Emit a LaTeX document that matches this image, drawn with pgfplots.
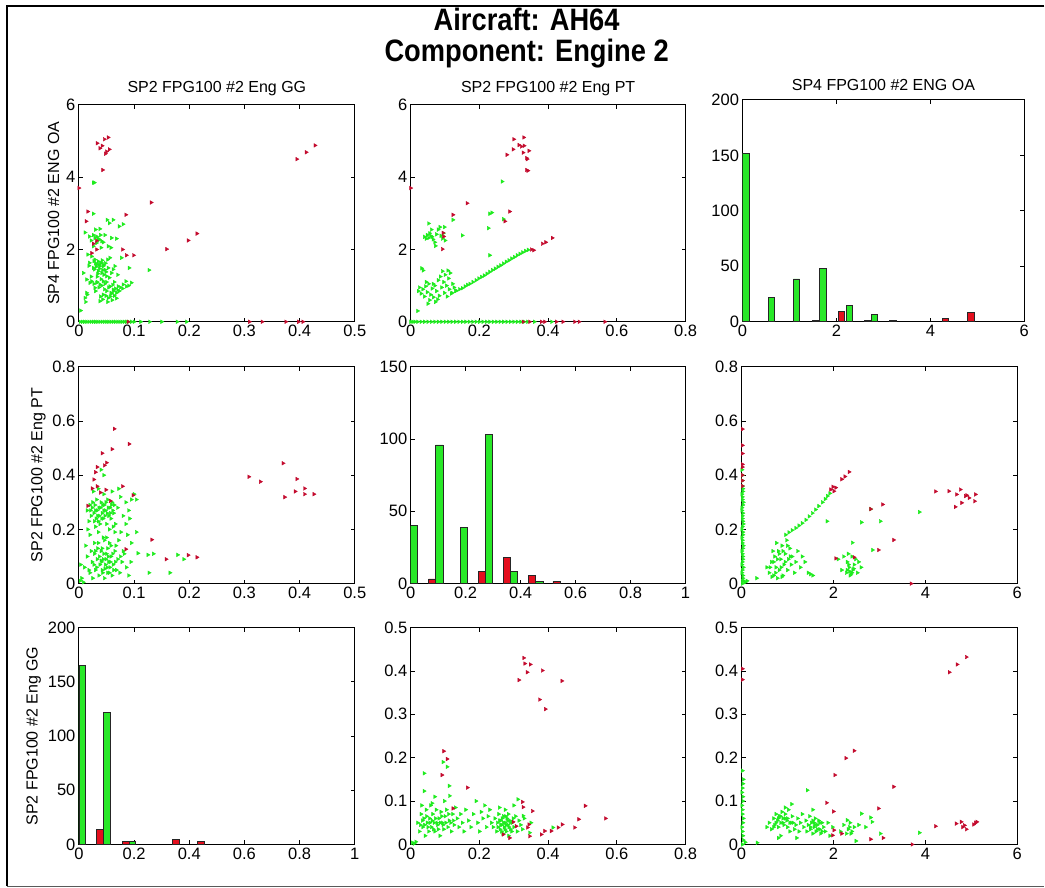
\documentclass[border=0pt]{standalone}
\usepackage{pgfplots}
\pgfplotsset{compat=1.18}
\usepackage{fontspec}
\setmainfont{Liberation Sans}
\newfontfamily\titlefont{Liberation Sans}[FakeStretch=0.88]
\definecolor{gr}{RGB}{30,235,30}
\definecolor{grb}{RGB}{40,232,40}
\definecolor{rd}{RGB}{228,15,30}
\definecolor{drd}{RGB}{195,10,45}
\pgfplotsset{
 panel/.style={scale only axis, width=276pt, height=217pt, enlargelimits=false,
   axis line style={line width=1.1pt, black}, tick align=inside, major tick length=4pt,
   tick style={line width=0.9pt, black},
   ticklabel style={font=\fontsize{16.5}{19}\selectfont, black},
   /pgf/number format/assume math mode=true, scaled ticks=false,
   title style={font=\fontsize{16}{19}\selectfont, yshift=0pt},
   ylabel style={font=\fontsize{16}{19}\selectfont},
   anchor=south west},
 gpt/.style={only marks, mark=triangle*, mark size=2.1pt, color=gr, mark options={rotate=-90}},
 rpt/.style={only marks, mark=triangle*, mark size=2.1pt, color=drd, mark options={rotate=-90}},
 gbar/.style={ybar, bar shift=0pt, fill=grb, draw=black!85, line width=0.6pt},
 rbar/.style={ybar, bar shift=0pt, fill=rd, draw=black!85, line width=0.6pt},
}
\begin{document}
\begin{tikzpicture}
\path (0pt,0pt) rectangle (1045pt,888pt);
\draw[line width=1.4pt] (1045pt,882pt) -- (7pt,882pt) -- (7pt,1pt);
\draw[line width=1.4pt, black!65] (7pt,1pt) -- (1045pt,1pt);
\node[align=center, inner sep=0pt, font=\titlefont\bfseries\fontsize{31}{31}\selectfont] at (527pt,850pt) {Aircraft: AH64\\Component: Engine 2};

% ---------- Row 1, col 1: GG vs OA
\begin{axis}[panel, at={(79pt,566pt)}, xmin=0, xmax=0.5, ymin=0, ymax=6,
  xtick={0,0.1,0.2,0.3,0.4,0.5}, ytick={0,2,4,6},
  title={SP2 FPG100 \#2 Eng GG}, ylabel={SP4 FPG100 \#2 ENG OA}]
\addplot[gpt] coordinates {
(0.026,3.85)(0.028,3.85)(0.026,2.99)(0.051,2.82)(0.062,2.82)(0.055,2.73)(0.073,2.64)(0.038,2.57)
(0.011,2.47)(0.019,2.36)(0.029,2.32)(0.032,2.36)(0.037,2.27)(0.041,2.23)(0.032,2.18)(0.059,2.32)
(0.026,2.09)(0.016,1.86)(0.023,1.81)(0.029,1.72)(0.035,1.67)(0.041,1.63)(0.032,1.58)(0.038,1.54)
(0.044,1.54)(0.026,1.49)(0.047,1.44)(0.035,1.40)(0.041,1.35)(0.053,1.49)(0.065,1.54)(0.077,1.77)
(0.091,1.49)(0.059,1.35)(0.050,1.26)(0.127,1.43)(0.014,1.17)(0.023,1.12)(0.032,1.08)(0.038,1.03)
(0.044,1.12)(0.029,0.94)(0.056,0.98)(0.062,0.89)(0.071,0.98)(0.080,1.03)(0.095,1.08)(0.086,0.98)
(0.050,0.85)(0.059,0.78)(0.044,0.75)(0.053,0.66)(0.038,0.57)(0.068,0.80)(0.014,0.80)(0.011,0.66)
(0.003,0.31)(0.020,1.08)(0.008,1.35)(0.019,1.63)(0.056,1.77)(0.053,2.09)
(0.030,1.62)(0.036,1.58)(0.042,1.70)(0.028,1.45)(0.045,1.30)(0.033,1.25)(0.040,1.18)(0.050,1.10)
(0.027,1.05)(0.036,0.95)(0.046,0.90)(0.058,0.80)(0.064,0.72)(0.070,0.88)(0.075,0.95)(0.068,0.65)
(0.060,0.60)(0.052,0.55)(0.039,0.70)(0.030,0.85)(0.022,1.25)(0.018,1.55)(0.048,1.62)(0.055,1.22)
(0.062,1.45)(0.070,1.30)(0.040,2.05)(0.047,2.40)(0.030,2.55)(0.058,2.05)(0.022,2.25)(0.080,2.70)
(0.068,2.30)(0.015,0.75)(0.012,0.55)
(0.031,1.52)(0.037,1.47)(0.043,1.43)(0.049,1.38)(0.034,1.33)(0.039,1.62)(0.045,1.57)(0.027,1.68)
(0.052,1.72)(0.033,1.10)(0.041,1.00)(0.047,1.05)(0.054,0.95)(0.061,1.02)(0.066,0.92)(0.073,0.85)
(0.079,0.92)(0.057,0.70)(0.063,0.85)(0.049,0.72)(0.043,0.62)(0.035,2.30)(0.039,2.40)(0.044,2.20)
(0.026,2.40)(0.064,1.10)(0.085,1.12)(0.090,1.00)
(0.002,0)(0.006,0)(0.010,0)(0.014,0)(0.018,0)(0.022,0)(0.026,0)(0.030,0)(0.034,0)(0.038,0)
(0.042,0)(0.046,0)(0.050,0)(0.054,0)(0.058,0)(0.062,0)(0.066,0)(0.070,0)(0.074,0)(0.078,0)
(0.082,0)(0.086,0)(0.090,0)(0.095,0)(0.100,0)(0.112,0)(0.128,0)(0.150,0)(0.178,0)(0.195,0)};
\addplot[rpt] coordinates {
(0.033,4.94)(0.038,4.80)(0.042,4.87)(0.046,5.05)(0.053,5.10)(0.050,4.71)(0.055,4.77)(0.048,4.65)
(0.043,4.20)(0.000,3.70)(0.016,3.05)(0.013,2.78)(0.085,2.96)(0.131,3.30)(0.079,2.00)(0.086,1.84)
(0.099,1.84)(0.032,2.00)(0.026,2.16)(0.023,1.90)(0.159,2.01)(0.198,2.25)(0.214,2.44)(0.395,4.50)
(0.412,4.69)(0.428,4.88)(0.309,0)(0.332,0)(0.375,0)(0.398,0)(0.406,0)(0.089,0)(0.032,2.24)};
\end{axis}

% ---------- Row 1, col 2: PT vs OA
\begin{axis}[panel, at={(411pt,566pt)}, width=275pt, xmin=0, xmax=0.8, ymin=0, ymax=6,
  xtick={0,0.2,0.4,0.6,0.8}, ytick={0,2,4,6},
  title={SP2 FPG100 \#2 Eng PT}]
\addplot[gpt] coordinates {
(0.120,0.80)(0.133,0.86)(0.142,0.90)(0.150,0.93)(0.158,0.98)(0.165,1.02)(0.172,1.05)(0.181,1.10)
(0.190,1.15)(0.198,1.20)(0.206,1.24)(0.214,1.28)(0.222,1.33)(0.230,1.38)(0.238,1.43)(0.246,1.47)
(0.254,1.52)(0.262,1.56)(0.270,1.61)(0.278,1.66)(0.286,1.70)(0.294,1.75)(0.302,1.79)(0.310,1.84)
(0.318,1.88)(0.326,1.92)(0.334,1.96)(0.342,1.99)
(0.022,0.85)(0.025,0.95)(0.030,0.78)(0.035,0.90)(0.040,0.70)(0.043,0.98)(0.048,0.82)(0.052,1.05)
(0.055,0.60)(0.058,0.75)(0.062,0.92)(0.066,0.68)(0.070,1.00)(0.072,0.55)(0.075,0.85)(0.080,1.15)
(0.083,0.72)(0.086,1.25)(0.090,0.95)(0.092,1.40)(0.096,1.10)(0.098,0.80)(0.100,1.30)(0.104,1.00)
(0.106,0.70)(0.110,1.20)(0.112,0.90)(0.115,1.35)(0.118,0.78)(0.122,1.05)(0.126,0.95)(0.130,0.85)
(0.045,1.10)(0.050,0.50)(0.032,1.48)(0.036,1.42)(0.065,1.05)(0.078,0.62)(0.108,1.42)(0.020,0.30)
(0.040,2.35)(0.045,2.30)(0.048,2.40)(0.052,2.32)(0.055,2.45)(0.058,2.38)(0.062,2.35)(0.065,2.28)
(0.070,2.20)(0.075,2.42)(0.080,2.55)(0.085,2.62)(0.088,2.38)(0.092,2.30)(0.095,2.45)(0.100,2.25)
(0.052,2.72)(0.060,2.55)(0.072,2.10)(0.098,2.62)
(0.266,3.88)(0.230,2.99)(0.226,2.59)(0.150,2.39)(0.270,2.84)(0.123,2.82)(0.230,1.84)(0.236,3.02)
(0.000,0)(0.006,0)(0.012,0)(0.020,0)(0.030,0)(0.040,0)(0.050,0)(0.060,0)(0.070,0)(0.080,0)
(0.090,0)(0.100,0)(0.110,0)(0.120,0)(0.130,0)(0.140,0)(0.150,0)(0.160,0)(0.170,0)(0.180,0)
(0.190,0)(0.200,0)(0.210,0)(0.220,0)(0.230,0)(0.240,0)(0.250,0)(0.260,0)(0.270,0)(0.280,0)
(0.290,0)(0.300,0)(0.310,0)(0.320,0)(0.330,0)(0.340,0)(0.360,0)(0.410,0)};
\addplot[rpt] coordinates {
(0.300,5.05)(0.329,5.10)(0.298,4.77)(0.315,4.89)(0.322,4.85)(0.330,4.87)(0.327,4.68)(0.344,4.73)
(0.337,4.53)(0.339,4.50)(0.280,4.62)(0.337,4.20)(0.341,4.18)(0.288,3.05)(0.164,3.28)(0.123,2.96)
(0.274,2.78)(0.094,2.46)(0.092,2.01)(0.096,2.36)(0.351,2.00)(0.358,1.98)(0.383,2.16)(0.393,2.20)
(0.412,2.32)(0.000,3.70)(0.380,0)(0.390,0)(0.424,0)(0.443,0)(0.477,0)(0.490,0)(0.565,0)(0.327,0)(0.346,0)};
\end{axis}

% ---------- Row 1, col 3: histogram OA
\begin{axis}[panel, at={(743pt,566pt)}, width=282pt, height=222pt, xmin=0, xmax=6, ymin=0, ymax=200,
  xtick={0,2,4,6}, ytick={0,50,100,150,200},
  title={SP4 FPG100 \#2 ENG OA}]
\addplot[gbar, bar width=0.13] coordinates {(0.07,152)(0.61,22)(1.15,38.7)(1.71,48)(2.27,15)(2.81,7)};
\addplot[rbar, bar width=0.13] coordinates {(1.55,1)(2.10,9.6)(2.66,1.5)(3.20,1.5)(4.32,3)(4.86,8.5)};
\end{axis}

% ---------- Row 2, col 1: GG vs PT
\begin{axis}[panel, at={(79pt,304pt)}, xmin=0, xmax=0.5, ymin=0, ymax=0.8,
  xtick={0,0.1,0.2,0.3,0.4,0.5}, ytick={0,0.2,0.4,0.6,0.8},
  ylabel={SP2 FPG100 \#2 Eng PT}]
\addplot[gpt] coordinates {
(0.015,0.27)(0.020,0.29)(0.022,0.25)(0.025,0.30)(0.028,0.23)(0.030,0.27)(0.032,0.31)(0.034,0.25)
(0.036,0.28)(0.038,0.22)(0.040,0.30)(0.042,0.26)(0.044,0.24)(0.046,0.29)(0.048,0.27)(0.050,0.22)
(0.052,0.31)(0.054,0.25)(0.056,0.28)(0.058,0.24)(0.060,0.30)(0.063,0.26)(0.066,0.22)(0.070,0.28)
(0.075,0.32)(0.080,0.25)(0.085,0.30)(0.090,0.27)(0.095,0.31)(0.100,0.33)(0.026,0.34)(0.035,0.35)
(0.045,0.33)(0.060,0.34)(0.072,0.35)(0.040,0.42)(0.045,0.40)(0.030,0.21)(0.055,0.20)(0.018,0.23)
(0.020,0.18)(0.028,0.15)(0.035,0.19)(0.042,0.13)(0.050,0.17)(0.058,0.14)(0.065,0.19)(0.072,0.16)
(0.080,0.12)(0.088,0.18)(0.095,0.15)(0.104,0.19)(0.012,0.14)(0.030,0.12)(0.046,0.16)
(0.010,0.06)(0.015,0.10)(0.020,0.04)(0.024,0.08)(0.028,0.11)(0.030,0.05)(0.033,0.09)(0.036,0.03)
(0.038,0.07)(0.040,0.12)(0.042,0.05)(0.044,0.09)(0.046,0.02)(0.048,0.07)(0.050,0.11)(0.052,0.04)
(0.054,0.08)(0.056,0.06)(0.058,0.10)(0.060,0.03)(0.062,0.07)(0.065,0.12)(0.068,0.05)(0.070,0.09)
(0.074,0.04)(0.078,0.08)(0.082,0.11)(0.086,0.06)(0.090,0.03)(0.094,0.08)(0.034,0.13)(0.052,0.13)
(0.025,0.02)(0.040,0.085)(0.047,0.055)
(0.021,0.27)(0.027,0.26)(0.029,0.29)(0.033,0.27)(0.037,0.25)(0.039,0.28)(0.041,0.24)(0.043,0.29)
(0.047,0.25)(0.049,0.30)(0.051,0.26)(0.053,0.28)(0.057,0.26)(0.059,0.29)(0.061,0.27)(0.064,0.29)
(0.031,0.24)(0.035,0.23)(0.024,0.28)(0.045,0.27)
(0.032,0.06)(0.037,0.10)(0.041,0.08)(0.043,0.04)(0.045,0.11)(0.049,0.09)(0.051,0.06)(0.053,0.10)
(0.055,0.04)(0.057,0.08)(0.061,0.11)(0.063,0.05)(0.066,0.08)(0.027,0.07)(0.022,0.12)(0.018,0.05)
(0.035,0.15)(0.044,0.17)(0.055,0.15)(0.067,0.14)(0.076,0.19)(0.085,0.22)(0.092,0.24)(0.062,0.21)
(0.016,0.20)(0.075,0.10)
(0.107,0.112)(0.125,0.106)(0.135,0.11)(0.179,0.106)(0.19,0.09)(0.165,0.04)(0.127,0.04)(0.104,0.31)
(0.002,0.01)(0.005,0.02)(0.008,0.005)(0.003,0.07)};
\addplot[rpt] coordinates {
(0.064,0.571)(0.091,0.515)(0.060,0.496)(0.042,0.481)(0.050,0.446)(0.046,0.436)(0.033,0.430)(0.030,0.411)
(0.027,0.384)(0.024,0.351)(0.033,0.359)(0.049,0.346)(0.079,0.359)(0.098,0.326)(0.039,0.336)(0.016,0.287)
(0.057,0.305)(0.132,0.162)(0.158,0.090)(0.198,0.105)(0.214,0.097)(0.085,0.127)(0.308,0.394)(0.329,0.376)
(0.370,0.444)(0.395,0.386)(0.392,0.340)(0.373,0.319)(0.409,0.351)(0.409,0.330)(0.426,0.330)};
\end{axis}

% ---------- Row 2, col 2: histogram PT
\begin{axis}[panel, at={(411pt,304pt)}, width=275pt, xmin=0, xmax=1, ymin=0, ymax=150,
  xtick={0,0.2,0.4,0.6,0.8,1}, ytick={0,50,100,150}]
\addplot[gbar, bar width=0.026] coordinates {(0.012,40)(0.104,96)(0.194,39)(0.284,103)(0.376,8.6)(0.468,1.6)};
\addplot[rbar, bar width=0.026] coordinates {(0.078,3.2)(0.259,8.6)(0.349,18)(0.44,5.5)(0.53,1.4)};
\end{axis}

% ---------- Row 2, col 3: OA vs PT
\begin{axis}[panel, at={(742pt,304pt)}, xmin=0, xmax=6, ymin=0, ymax=0.8,
  xtick={0,2,4,6}, ytick={0,0.2,0.4,0.6,0.8}]
\addplot[gpt] coordinates {
(0.02,0.00)(0.03,0.02)(0.01,0.04)(0.04,0.06)(0.02,0.08)(0.03,0.10)(0.01,0.12)(0.04,0.14)(0.02,0.16)
(0.03,0.18)(0.01,0.20)(0.04,0.22)(0.02,0.24)(0.03,0.26)(0.01,0.28)(0.04,0.30)(0.02,0.32)(0.03,0.34)
(0.02,0.36)(0.01,0.42)(0.05,0.01)(0.08,0.005)(0.12,0.01)
(0.02,0.01)(0.03,0.03)(0.02,0.05)(0.01,0.07)(0.03,0.09)(0.02,0.11)(0.03,0.13)(0.02,0.15)(0.01,0.17)
(0.03,0.19)(0.02,0.21)(0.03,0.23)(0.02,0.25)(0.01,0.27)(0.03,0.29)(0.02,0.31)(0.01,0.33)(0.03,0.35)
(0.02,0.38)(0.02,0.40)
(0.96,0.18)(1.03,0.189)(1.10,0.197)(1.18,0.205)(1.25,0.214)(1.32,0.223)(1.40,0.235)(1.47,0.248)
(1.54,0.26)(1.61,0.273)(1.68,0.286)(1.76,0.30)(1.82,0.312)(1.87,0.323)(1.92,0.333)
(0.55,0.06)(0.60,0.04)(0.65,0.08)(0.70,0.03)(0.72,0.10)(0.75,0.06)(0.78,0.02)(0.80,0.12)(0.82,0.05)
(0.85,0.09)(0.88,0.14)(0.90,0.03)(0.92,0.07)(0.95,0.11)(0.98,0.16)(1.00,0.05)(1.02,0.09)(1.05,0.13)
(1.08,0.07)(1.10,0.10)(1.15,0.04)(1.18,0.08)(1.22,0.12)(1.28,0.06)(1.32,0.10)(1.38,0.08)(0.68,0.12)
(0.88,0.025)(0.76,0.15)(1.45,0.04)(1.50,0.035)(1.55,0.03)(0.33,0.02)
(0.62,0.06)(0.70,0.08)(0.78,0.09)(0.82,0.11)(0.90,0.12)(0.95,0.08)(1.00,0.14)(1.06,0.10)(0.86,0.06)
(0.74,0.04)(0.66,0.025)
(2.10,0.09)(2.18,0.05)(2.22,0.10)(2.28,0.04)(2.30,0.08)(2.34,0.06)(2.36,0.03)(2.40,0.10)(2.42,0.05)
(2.45,0.07)(2.48,0.09)(2.52,0.04)(2.55,0.08)(2.60,0.06)(2.32,0.11)(2.38,0.035)
(2.30,0.05)(2.35,0.045)(2.40,0.04)(2.33,0.07)(2.44,0.055)
(1.86,0.23)(2.41,0.151)(2.61,0.226)(3.02,0.23)(2.85,0.124)(3.87,0.264)(2.81,0.275)};
\addplot[rpt] coordinates {
(0.02,0.57)(0.02,0.51)(0.02,0.48)(0.02,0.44)(0.02,0.43)(0.02,0.40)(0.02,0.38)(0.02,0.36)
(1.94,0.347)(1.99,0.357)(2.05,0.354)(2.01,0.341)(2.18,0.385)(2.25,0.395)(2.34,0.412)
(2.81,0.275)(3.07,0.292)(3.31,0.161)(2.98,0.124)(2.05,0.093)(2.45,0.097)(3.69,0)
(4.22,0.34)(4.51,0.341)(4.68,0.329)(4.76,0.347)(4.65,0.283)(4.79,0.298)(4.87,0.323)(4.90,0.326)
(4.95,0.316)(5.09,0.329)(5.07,0.304)};
\end{axis}

% ---------- Row 3, col 1: histogram GG
\begin{axis}[panel, at={(79pt,43pt)}, xmin=0, xmax=1, ymin=0, ymax=200,
  xtick={0,0.2,0.4,0.6,0.8,1}, ytick={0,50,100,150,200},
  ylabel={SP2 FPG100 \#2 Eng GG}]
\addplot[gbar, bar width=0.025] coordinates {(0.012,165)(0.102,122)(0.193,2.7)};
\addplot[rbar, bar width=0.025] coordinates {(0.076,13.9)(0.17,2.7)(0.35,4.5)(0.443,2.7)};
\end{axis}

% ---------- Row 3, col 2: PT vs GG
\begin{axis}[panel, at={(411pt,43pt)}, width=275pt, xmin=0, xmax=0.8, ymin=0, ymax=0.5,
  xtick={0,0.2,0.4,0.6,0.8}, ytick={0,0.1,0.2,0.3,0.4,0.5}]
\addplot[gpt] coordinates {
(0.020,0.05)(0.025,0.03)(0.030,0.07)(0.035,0.04)(0.038,0.06)(0.042,0.02)(0.045,0.08)(0.048,0.05)
(0.052,0.03)(0.055,0.06)(0.058,0.09)(0.060,0.04)(0.064,0.07)(0.068,0.05)(0.070,0.03)(0.074,0.08)
(0.078,0.045)(0.082,0.06)(0.085,0.02)(0.088,0.075)(0.092,0.05)(0.096,0.035)(0.100,0.065)(0.104,0.08)
(0.108,0.04)(0.112,0.055)(0.118,0.03)(0.122,0.07)(0.126,0.045)(0.130,0.085)(0.135,0.06)(0.140,0.04)
(0.145,0.07)(0.150,0.05)(0.032,0.09)(0.062,0.095)(0.098,0.1)
(0.028,0.045)(0.034,0.055)(0.040,0.045)(0.046,0.065)(0.050,0.04)(0.056,0.05)(0.062,0.055)(0.066,0.035)
(0.072,0.06)(0.076,0.05)(0.080,0.035)(0.086,0.05)(0.090,0.065)(0.094,0.045)(0.102,0.05)(0.110,0.07)
(0.116,0.05)(0.124,0.055)
(0.155,0.03)(0.16,0.08)(0.168,0.055)(0.175,0.04)(0.182,0.07)(0.19,0.1)(0.195,0.05)(0.2,0.03)
(0.205,0.075)(0.21,0.06)(0.215,0.09)(0.22,0.04)(0.225,0.065)(0.23,0.08)(0.235,0.05)
(0.240,0.04)(0.245,0.06)(0.250,0.03)(0.252,0.05)(0.256,0.07)(0.260,0.035)(0.262,0.055)(0.265,0.045)
(0.268,0.025)(0.270,0.065)(0.272,0.04)(0.275,0.05)(0.278,0.03)(0.280,0.06)(0.283,0.045)(0.285,0.02)
(0.288,0.055)(0.290,0.035)(0.295,0.05)(0.300,0.04)(0.305,0.065)(0.310,0.03)(0.315,0.055)(0.320,0.045)
(0.325,0.035)(0.330,0.06)(0.258,0.085)(0.275,0.08)(0.3,0.09)
(0.254,0.04)(0.258,0.055)(0.262,0.045)(0.266,0.06)(0.27,0.05)(0.274,0.035)(0.278,0.045)(0.282,0.055)
(0.286,0.04)(0.29,0.05)(0.294,0.03)(0.298,0.06)(0.264,0.03)(0.276,0.065)(0.284,0.07)
(0.039,0.164)(0.039,0.123)(0.094,0.19)(0.106,0.179)(0.112,0.135)(0.113,0.112)(0.07,0.11)(0.312,0.104)
(0.327,0.066)(0.346,0.027)(0.414,0.039)(0.005,0.004)(0.01,0.002)(0.015,0.006)(0.35,0.05)};
\addplot[rpt] coordinates {
(0.329,0.430)(0.332,0.417)(0.348,0.415)(0.339,0.397)(0.383,0.401)(0.315,0.379)(0.440,0.377)(0.375,0.334)
(0.392,0.312)(0.096,0.215)(0.106,0.197)(0.091,0.160)(0.165,0.131)(0.123,0.083)(0.325,0.098)(0.327,0.086)
(0.354,0.077)(0.508,0.089)(0.489,0.058)(0.477,0.039)(0.567,0.060)(0.441,0.046)(0.429,0.039)(0.409,0.031)
(0.390,0.031)(0.380,0.023)(0.344,0.046)(0.340,0.039)(0.298,0.052)(0.307,0.042)(0.288,0.015)(0.346,0.019)
(0.269,0.023)};
\end{axis}

% ---------- Row 3, col 3: OA vs GG
\begin{axis}[panel, at={(742pt,43pt)}, xmin=0, xmax=6, ymin=0, ymax=0.5,
  xtick={0,2,4,6}, ytick={0,0.1,0.2,0.3,0.4,0.5}]
\addplot[gpt] coordinates {
(0.02,0.0)(0.03,0.02)(0.01,0.04)(0.04,0.06)(0.02,0.08)(0.03,0.10)(0.01,0.12)(0.03,0.14)(0.02,0.17)
(0.04,0.01)(0.08,0.005)(0.02,0.03)(0.03,0.05)(0.02,0.07)(0.01,0.09)(0.03,0.11)(0.02,0.13)(0.04,0.15)
(0.55,0.04)(0.60,0.05)(0.65,0.035)(0.70,0.06)(0.72,0.045)(0.75,0.07)(0.78,0.055)(0.80,0.04)(0.82,0.065)
(0.85,0.05)(0.88,0.075)(0.90,0.06)(0.92,0.045)(0.95,0.07)(0.98,0.055)(1.00,0.04)(1.02,0.08)(1.05,0.03)
(1.08,0.05)(1.10,0.065)(1.15,0.035)(1.18,0.045)(1.22,0.06)(1.25,0.03)(1.28,0.05)(1.32,0.07)(1.35,0.04)
(1.40,0.055)(1.42,0.03)(1.45,0.045)(1.48,0.065)(1.50,0.035)(1.52,0.05)(1.55,0.025)(1.58,0.04)(1.60,0.06)
(1.62,0.03)(1.65,0.045)(1.68,0.055)(1.70,0.035)(1.72,0.025)(1.75,0.05)(1.78,0.04)(1.82,0.03)(1.88,0.05)
(1.92,0.02)(1.98,0.04)(0.80,0.015)(0.85,0.02)(1.20,0.015)(1.43,0.125)(1.09,0.093)(0.95,0.085)(1.55,0.08)
(0.75,0.05)(0.80,0.06)(0.85,0.065)(0.90,0.05)(0.95,0.06)(1.00,0.06)(1.05,0.05)(1.50,0.04)(1.55,0.055)
(1.60,0.045)(1.65,0.035)(1.70,0.05)(1.75,0.03)(1.58,0.05)(0.70,0.04)(1.12,0.05)
(2.15,0.03)(2.22,0.045)(2.28,0.025)(2.32,0.035)(2.36,0.05)(2.40,0.03)(2.30,0.056)(2.45,0.04)(2.55,0.045)
(2.61,0.071)(2.81,0.062)(2.84,0.052)(3.02,0.025)(2.49,0.008)(3.87,0.027)(0.34,0.004)(2.70,0.04)
(2.35,0.04)(2.38,0.025)};
\addplot[rpt] coordinates {
(4.89,0.432)(4.69,0.415)(4.52,0.397)(2.45,0.216)(2.27,0.199)(2.03,0.160)(3.31,0.133)(1.85,0.096)
(2.00,0.076)(2.98,0.083)(2.01,0.033)(1.98,0.021)(2.18,0.025)(2.81,0.012)(3.08,0.015)(4.22,0.042)
(4.67,0.048)(4.78,0.052)(4.81,0.040)(4.89,0.035)(4.85,0.044)(5.05,0.046)(5.09,0.050)(5.12,0.052)
(3.71,0)(0.02,0.38)(0.02,0.405)};
\end{axis}
\end{tikzpicture}
\end{document}
